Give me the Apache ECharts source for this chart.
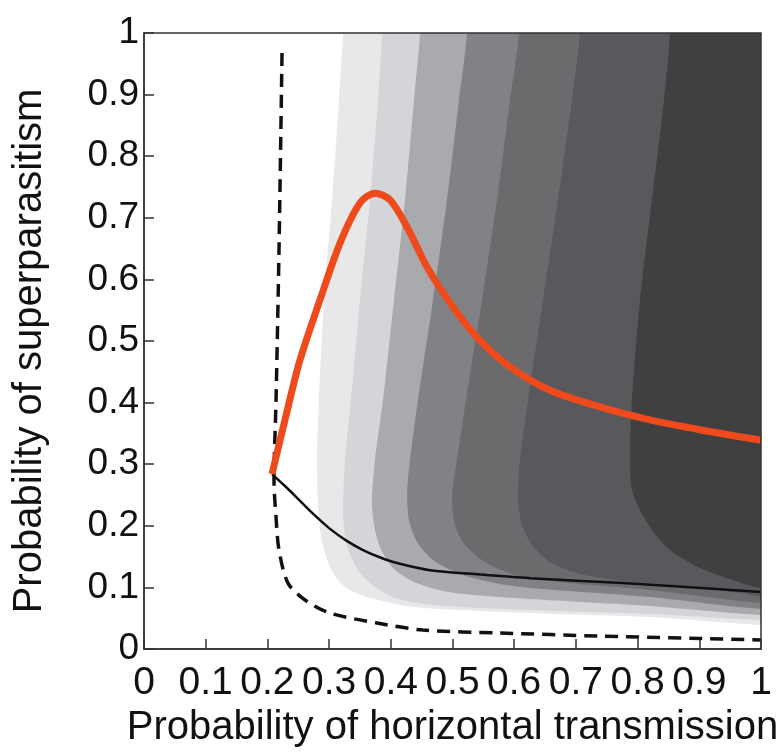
<!DOCTYPE html>
<html>
<head>
<meta charset="utf-8">
<script src="https://cdn.jsdelivr.net/npm/echarts@6/dist/echarts.min.js"></script>
<style>
html,body{margin:0;padding:0;background:#fff;}
#chart{width:782px;height:756px;}
</style>
</head>
<body>
<div id="chart"></div>
<script>
// ---- Data ----
const xAxisTitle = 'Probability of horizontal transmission';
const yAxisTitle = 'Probability of superparasitism';

// Contour boundaries (lightest -> darkest), each [x, y], from top edge down and out to the right edge
const contour1 = [[0.3225,1.0],[0.316,0.891],[0.3047,0.729],[0.2917,0.5666],[0.2836,0.4042],[0.2804,0.3068],[0.2836,0.2094],[0.2917,0.1607],[0.3063,0.1234],[0.3258,0.1006],[0.3614,0.0844],[0.436,0.0682],[0.6256,0.0584],[0.8201,0.0519],[1.0,0.0390]];
const contour2 = [[0.3857,1.0],[0.3793,0.891],[0.3663,0.729],[0.3501,0.5666],[0.3355,0.4042],[0.3258,0.3068],[0.3225,0.2256],[0.3258,0.1851],[0.3339,0.1526],[0.3501,0.1234],[0.3744,0.1006],[0.4068,0.0828],[0.4522,0.0731],[0.5446,0.0666],[0.6256,0.0633],[0.8201,0.0568],[1.0,0.0471]];
const contour3 = [[0.4473,1.0],[0.4376,0.891],[0.423,0.729],[0.4052,0.5666],[0.3874,0.4042],[0.3744,0.3068],[0.3695,0.2419],[0.3728,0.2013],[0.3825,0.1656],[0.4019,0.1331],[0.4311,0.112],[0.4716,0.0974],[0.517,0.0893],[0.6256,0.0812],[0.8201,0.0698],[1.0,0.0552]];
const contour4 = [[0.5235,1.0],[0.5105,0.891],[0.4911,0.729],[0.4684,0.5666],[0.4441,0.4042],[0.4311,0.3068],[0.4263,0.25],[0.4295,0.2094],[0.4425,0.1737],[0.4684,0.1445],[0.5122,0.1218],[0.5689,0.1071],[0.6256,0.099],[0.8201,0.0844],[1.0,0.0649]];
const contour5 = [[0.6078,1.0],[0.5932,0.891],[0.5721,0.729],[0.5478,0.5666],[0.5219,0.4042],[0.5073,0.3068],[0.4992,0.25],[0.504,0.2013],[0.5203,0.1688],[0.5527,0.1412],[0.6013,0.1201],[0.6742,0.1088],[0.8201,0.0958],[1.0,0.0747]];
const contour6 = [[0.7066,1.0],[0.6937,0.891],[0.671,0.729],[0.6467,0.5666],[0.6224,0.4042],[0.6094,0.3068],[0.6062,0.2419],[0.6126,0.2013],[0.6288,0.1688],[0.658,0.1412],[0.7066,0.1218],[0.7763,0.1104],[0.9011,0.1006],[1.0,0.086]];
const contour7 = [[0.8525,1.0],[0.8428,0.891],[0.8233,0.729],[0.8039,0.5666],[0.7909,0.4042],[0.7877,0.3068],[0.7909,0.2581],[0.8039,0.2256],[0.8233,0.1932],[0.8525,0.1607],[0.9011,0.1315],[0.9498,0.1136],[1.0,0.099]];

// Orange (thick) curve
const orangeCurve = [[0.2075,0.284],[0.2285,0.372],[0.2528,0.469],[0.2853,0.567],[0.3177,0.659],[0.350,0.724],[0.3744,0.740],[0.3987,0.729],[0.4263,0.685],[0.4587,0.620],[0.496,0.562],[0.5397,0.506],[0.5932,0.458],[0.658,0.420],[0.739,0.393],[0.820,0.372],[0.901,0.356],[1.0,0.339]];
// Black solid curve
const blackCurve = [[0.2075,0.284],[0.228,0.265],[0.248,0.2455],[0.273,0.2205],[0.3015,0.195],[0.328,0.176],[0.355,0.1607],[0.382,0.149],[0.410,0.1396],[0.4635,0.128],[0.545,0.121],[0.6256,0.115],[0.776,0.107],[1.0,0.0925]];
// Black dashed curve
const dashedCurve = [[0.2237,0.9675],[0.2188,0.6477],[0.214,0.404],[0.2107,0.274],[0.214,0.214],[0.2188,0.1607],[0.2334,0.107],[0.261,0.0795],[0.3015,0.0584],[0.3776,0.0422],[0.452,0.0308],[0.577,0.026],[0.739,0.021],[1.0,0.0146]];

const contours = [contour1, contour2, contour3, contour4, contour5, contour6, contour7];
const bandColors = ['#e8e8e8', '#d3d5d8', '#a8aaad', '#808285', '#6b6b6e', '#58585d', '#404040'];

const FONT = '"Liberation Sans", Arial, Helvetica, sans-serif';

const chart = echarts.init(document.getElementById('chart'), null, {renderer: 'canvas'});

const option = {
  animation: false,
  backgroundColor: '#ffffff',
  grid: {
    left: 144, top: 33, right: 21, bottom: 107,
    show: true, borderColor: '#333', borderWidth: 1.5, backgroundColor: 'transparent', z: 10
  },
  xAxis: {
    type: 'value', min: 0, max: 1, interval: 0.1,
    name: xAxisTitle, nameLocation: 'middle', nameGap: 50,
    nameTextStyle: {fontSize: 40, color: '#111', fontFamily: FONT},
    axisLine: {show: true, lineStyle: {color: '#333', width: 1.5}},
    axisTick: {show: true, inside: true, length: 10, lineStyle: {color: '#333', width: 1.5}},
    axisLabel: {fontSize: 39, color: '#111', fontFamily: FONT, margin: 15},
    splitLine: {show: false}
  },
  yAxis: {
    type: 'value', min: 0, max: 1, interval: 0.1,
    name: yAxisTitle, nameLocation: 'middle', nameGap: 94, nameRotate: 90,
    nameTextStyle: {fontSize: 40, color: '#111', fontFamily: FONT, padding: [0, 20, 0, 0]},
    axisLine: {show: true, lineStyle: {color: '#333', width: 1.5}},
    axisTick: {show: true, inside: true, length: 10, lineStyle: {color: '#333', width: 1.5}},
    axisLabel: {fontSize: 37, color: '#111', fontFamily: FONT, margin: 5},
    splitLine: {show: false}
  },
  series: [
    {
      type: 'custom',
      clip: true,
      z: 1,
      silent: true,
      data: contours.map((c, i) => [i]),
      renderItem: function (params, api) {
        const pts = contours[params.dataIndex].slice();
        const first = pts[0];
        const last = pts[pts.length - 1];
        const poly = pts.concat([[1.1, last[1]], [1.1, 1.1], [first[0], 1.1]]);
        return {
          type: 'polygon',
          shape: {points: poly.map(p => api.coord(p)), smooth: 0.25},
          style: {fill: bandColors[params.dataIndex], stroke: null}
        };
      }
    },
    {
      type: 'line', data: dashedCurve, smooth: 0.3, showSymbol: false, z: 3, silent: true,
      lineStyle: {color: '#111', width: 3.5, type: [13, 8]}
    },
    {
      type: 'line', data: blackCurve, smooth: 0.3, showSymbol: false, z: 3, silent: true,
      lineStyle: {color: '#111', width: 2.5}
    },
    {
      type: 'line', data: orangeCurve, smooth: 0.3, showSymbol: false, z: 4, silent: true,
      lineStyle: {color: '#ee4a1c', width: 7}
    }
  ]
};
chart.setOption(option);
</script>
</body>
</html>
